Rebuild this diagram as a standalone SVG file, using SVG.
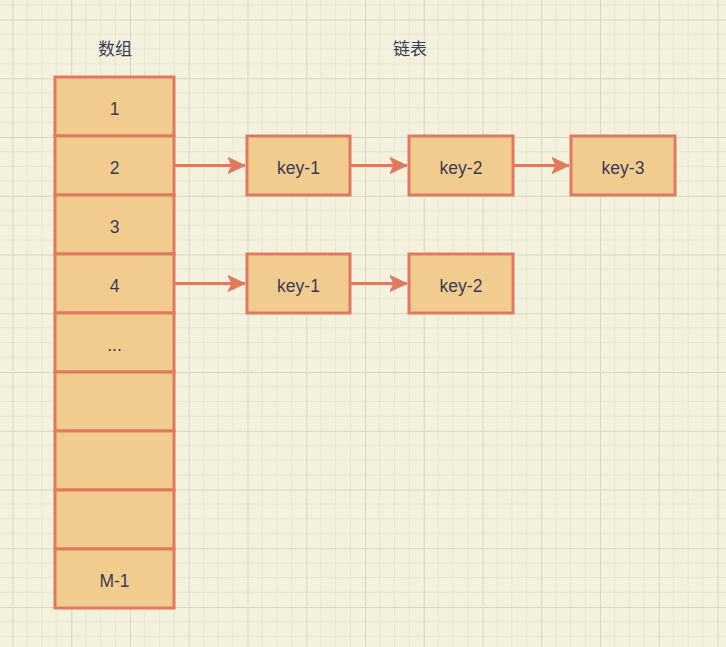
<svg xmlns="http://www.w3.org/2000/svg" width="726" height="647" viewBox="0 0 726 647">
<style>
.box{fill:#F2CC8F;stroke:#E07A5F;stroke-width:3}
.t{font-family:"Liberation Sans",Arial,sans-serif;font-size:17.5px;fill:#393C56;text-anchor:middle;dominant-baseline:central}
.h{font-family:"Liberation Sans","Noto Sans CJK SC",sans-serif;font-size:17px;fill:#393C56;text-anchor:middle;dominant-baseline:central}
.c{stroke:#E07A5F;stroke-width:3;fill:none}
</style>
<defs>
<pattern id="grid" patternUnits="userSpaceOnUse" x="12.5" y="19.5" width="58.75" height="58.75">
<path d="M14.69 0V58.75M29.375 0V58.75M44.06 0V58.75M0 14.69H58.75M0 29.375H58.75M0 44.06H58.75" stroke="#E8E5D3" stroke-width="1" fill="none"/>
<path d="M0.5 0V58.75M0 0.5H58.75" stroke="#D8D5C2" stroke-width="1" fill="none"/>
</pattern>
<marker id="arr" markerUnits="userSpaceOnUse" markerWidth="18" markerHeight="18" refX="17" refY="9" orient="auto">
<path d="M17 9L0 1L4 9L0 17Z" fill="#E07A5F" stroke="#E07A5F" stroke-width="1"/>
</marker>
</defs>
<rect width="726" height="647" fill="#F4F1DE"/>
<rect width="726" height="647" fill="url(#grid)"/>
<text class="h" x="115" y="49">数组</text>
<text class="h" x="410" y="49">链表</text>
<g id="array">
<g id="a1"><rect class="box" x="55" y="77" width="119" height="59"/><text class="t" x="114.5" y="108.5">1</text></g>
<g id="a2"><rect class="box" x="55" y="136" width="119" height="59"/><text class="t" x="114.5" y="167.5">2</text></g>
<g id="a3"><rect class="box" x="55" y="195" width="119" height="59"/><text class="t" x="114.5" y="226.5">3</text></g>
<g id="a4"><rect class="box" x="55" y="254" width="119" height="59"/><text class="t" x="114.5" y="285.5">4</text></g>
<g id="a5"><rect class="box" x="55" y="313" width="119" height="59"/><text class="t" x="114.5" y="344.5">...</text></g>
<g id="a6"><rect class="box" x="55" y="372" width="119" height="59"/></g>
<g id="a7"><rect class="box" x="55" y="431" width="119" height="59"/></g>
<g id="a8"><rect class="box" x="55" y="490" width="119" height="59"/></g>
<g id="a9"><rect class="box" x="55" y="549" width="119" height="59"/><text class="t" x="114.5" y="580.5">M-1</text></g>
</g>
<g id="r1k1"><rect class="box" x="247" y="136" width="103" height="59"/><text class="t" x="298.5" y="167.5">key-1</text></g>
<g id="r1k2"><rect class="box" x="409" y="136" width="104" height="59"/><text class="t" x="461" y="167.5">key-2</text></g>
<g id="r1k3"><rect class="box" x="571" y="136" width="104" height="59"/><text class="t" x="623" y="167.5">key-3</text></g>
<g id="r2k1"><rect class="box" x="247" y="254" width="103" height="59"/><text class="t" x="298.5" y="285.5">key-1</text></g>
<g id="r2k2"><rect class="box" x="409" y="254" width="104" height="59"/><text class="t" x="461" y="285.5">key-2</text></g>
<g id="connectors">
<path class="c" d="M174 165.5H245" marker-end="url(#arr)"/>
<path class="c" d="M350 165.5H407" marker-end="url(#arr)"/>
<path class="c" d="M513 165.5H569" marker-end="url(#arr)"/>
<path class="c" d="M174 283.5H245" marker-end="url(#arr)"/>
<path class="c" d="M350 283.5H407" marker-end="url(#arr)"/>
</g>
</svg>
